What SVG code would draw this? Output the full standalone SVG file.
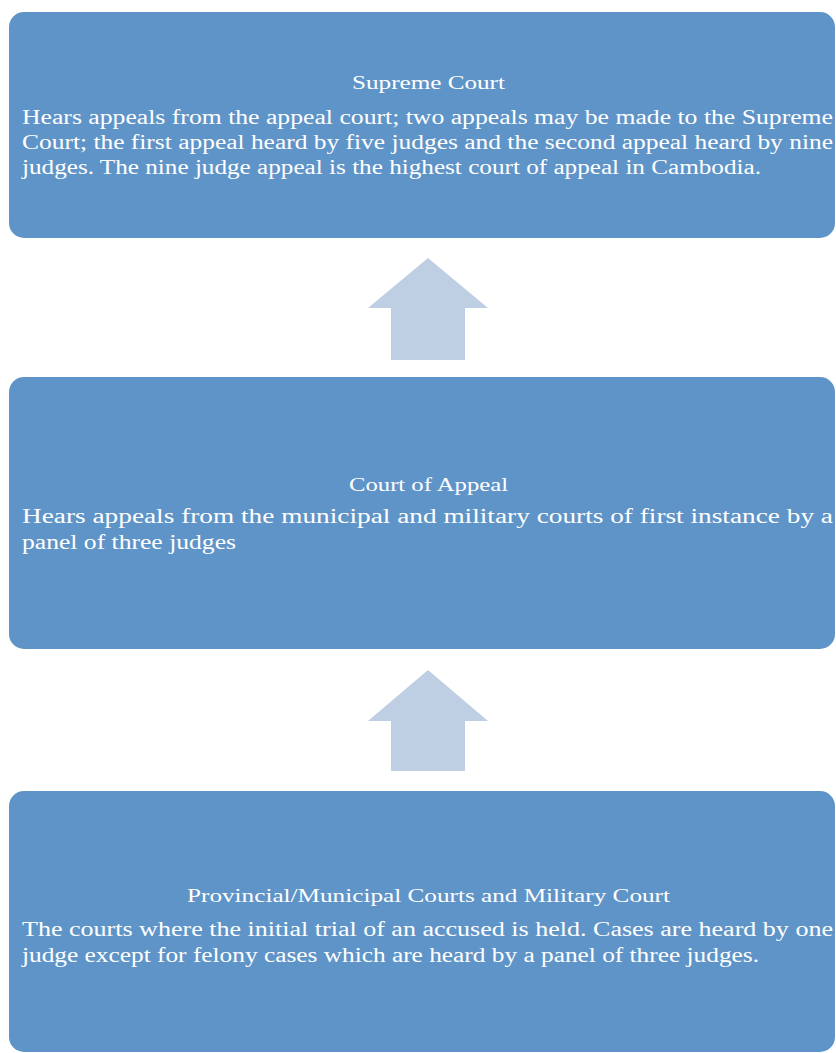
<svg xmlns="http://www.w3.org/2000/svg" width="836" height="1053" viewBox="0 0 836 1053">
<style>
.box{fill:#5F94C8;}
.arrow{fill:#BFCFE3;}
.t{font-family:"Liberation Serif","Times New Roman",serif;fill:#FFFFFF;}
.title{font-size:19px;text-anchor:middle;}
.body{font-size:20px;}
</style>
<rect width="836" height="1053" fill="#FFFFFF"/>
<g id="connectors">
<path class="arrow" d="M428,258 L488,308 L465,308 L465,360 L391,360 L391,308 L368,308 Z"/>
<path class="arrow" d="M428,670 L488,721 L465,721 L465,771 L391,771 L391,721 L368,721 Z"/>
</g>
<g id="supreme-court">
<rect class="box" x="9" y="12" width="826" height="226" rx="15" ry="15"/>
<text class="t title" x="428.5" y="89" textLength="153" lengthAdjust="spacingAndGlyphs">Supreme Court</text>
<text class="t body" x="22" y="124" textLength="811" lengthAdjust="spacingAndGlyphs">Hears appeals from the appeal court; two appeals may be made to the Supreme</text>
<text class="t body" x="22" y="149" textLength="811" lengthAdjust="spacingAndGlyphs">Court; the first appeal heard by five judges and the second appeal heard by nine</text>
<text class="t body" x="22" y="174" textLength="739" lengthAdjust="spacingAndGlyphs">judges. The nine judge appeal is the highest court of appeal in Cambodia.</text>
</g>
<g id="court-of-appeal">
<rect class="box" x="9" y="377" width="826" height="272" rx="15" ry="15"/>
<text class="t title" x="428.5" y="491" textLength="159" lengthAdjust="spacingAndGlyphs">Court of Appeal</text>
<text class="t body" x="22" y="523" textLength="811" lengthAdjust="spacingAndGlyphs">Hears appeals from the municipal and military courts of first instance by a</text>
<text class="t body" x="22" y="549" textLength="214" lengthAdjust="spacingAndGlyphs">panel of three judges</text>
</g>
<g id="first-instance-courts">
<rect class="box" x="9" y="791" width="826" height="261" rx="15" ry="15"/>
<text class="t title" x="428.5" y="902" textLength="483" lengthAdjust="spacingAndGlyphs">Provincial/Municipal Courts and Military Court</text>
<text class="t body" x="22" y="936" textLength="811" lengthAdjust="spacingAndGlyphs">The courts where the initial trial of an accused is held. Cases are heard by one</text>
<text class="t body" x="22" y="962" textLength="737" lengthAdjust="spacingAndGlyphs">judge except for felony cases which are heard by a panel of three judges.</text>
</g>
</svg>
